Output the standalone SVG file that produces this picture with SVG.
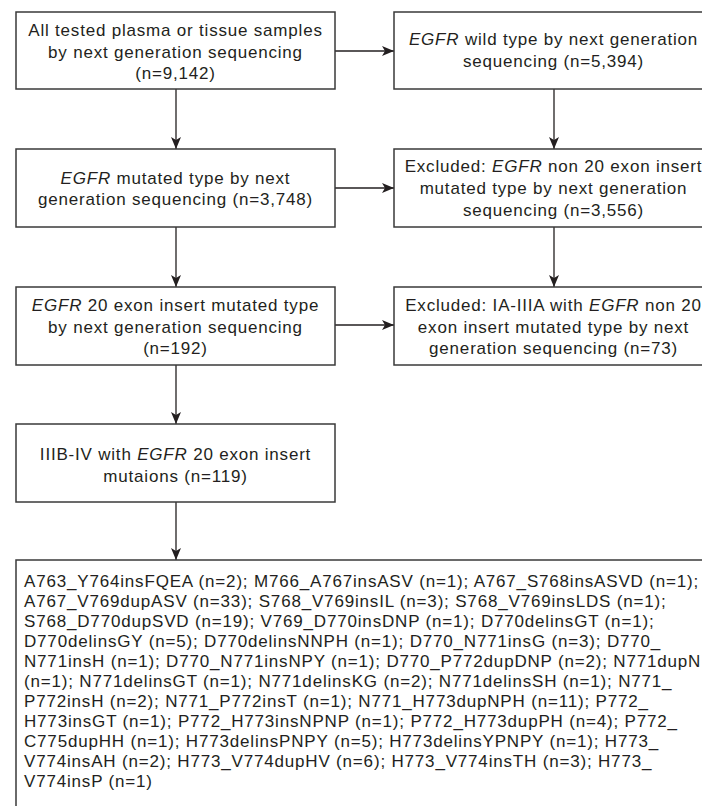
<svg xmlns="http://www.w3.org/2000/svg" width="702" height="806" viewBox="0 0 702 806">
<style>
.box{fill:#fff;stroke:#3a3a3a;stroke-width:1.5}
.t{font-family:"Liberation Sans",Arial,Helvetica,sans-serif;font-size:17px;fill:#231f20;letter-spacing:0.8px}
.b{letter-spacing:0.82px}
.c{text-anchor:middle}
.i{font-style:italic}
.con{stroke:#231f20;stroke-width:1.3;fill:none;marker-end:url(#ah)}
</style>
<defs>
<marker id="ah" markerUnits="userSpaceOnUse" markerWidth="12" markerHeight="10" viewBox="0 0 12 10" refX="12" refY="5" orient="auto">
<path d="M0,0 L12,5 L0,10 L3,5 z" fill="#231f20"/>
</marker>
</defs>
<rect width="702" height="806" fill="#fff"/>
<g id="connectors">
<line class="con" x1="335" y1="51" x2="394" y2="51"/>
<line class="con" x1="335" y1="188" x2="394" y2="188"/>
<line class="con" x1="335" y1="325" x2="394" y2="325"/>
<line class="con" x1="176" y1="89" x2="176" y2="149"/>
<line class="con" x1="176" y1="227" x2="176" y2="287"/>
<line class="con" x1="176" y1="365" x2="176" y2="424"/>
<line class="con" x1="176" y1="502" x2="176" y2="560"/>
<line class="con" x1="554" y1="89" x2="554" y2="149"/>
<line class="con" x1="554" y1="227" x2="554" y2="287"/>
</g>
<g id="n1">
<rect class="box" x="16" y="12" width="319" height="77"/>
<text class="t c" x="175.5" y="36">All tested plasma or tissue samples</text>
<text class="t c" x="175.5" y="57.5">by next generation sequencing</text>
<text class="t c" x="175.5" y="79">(n=9,142)</text>
</g>
<g id="n2">
<rect class="box" x="394" y="12" width="319" height="77"/>
<text class="t c" x="553.5" y="45"><tspan class="i">EGFR</tspan> wild type by next generation</text>
<text class="t c" x="553.5" y="66.5">sequencing (n=5,394)</text>
</g>
<g id="n3">
<rect class="box" x="16" y="149" width="319" height="78"/>
<text class="t c" x="175.5" y="183.5"><tspan class="i">EGFR</tspan> mutated type by next</text>
<text class="t c" x="175.5" y="205">generation sequencing (n=3,748)</text>
</g>
<g id="n4">
<rect class="box" x="394" y="149" width="319" height="78"/>
<text class="t c" x="553.5" y="172">Excluded: <tspan class="i">EGFR</tspan> non 20 exon insert</text>
<text class="t c" x="553.5" y="194">mutated type by next generation</text>
<text class="t c" x="553.5" y="216">sequencing (n=3,556)</text>
</g>
<g id="n5">
<rect class="box" x="16" y="287" width="319" height="78"/>
<text class="t c" x="175.5" y="311"><tspan class="i">EGFR</tspan> 20 exon insert mutated type</text>
<text class="t c" x="175.5" y="332.5">by next generation sequencing</text>
<text class="t c" x="175.5" y="354">(n=192)</text>
</g>
<g id="n6">
<rect class="box" x="394" y="287" width="319" height="78"/>
<text class="t c" x="553.5" y="311">Excluded: IA-IIIA with <tspan class="i">EGFR</tspan> non 20</text>
<text class="t c" x="553.5" y="332.5">exon insert mutated type by next</text>
<text class="t c" x="553.5" y="354">generation sequencing (n=73)</text>
</g>
<g id="n7">
<rect class="box" x="16" y="424" width="319" height="78"/>
<text class="t c" x="175.5" y="460">IIIB-IV with <tspan class="i">EGFR</tspan> 20 exon insert</text>
<text class="t c" x="175.5" y="481.5">mutaions (n=119)</text>
</g>
<g id="n8">
<rect class="box" x="16" y="560" width="700" height="260"/>
<text class="t b" x="24" y="587">A763_Y764insFQEA (n=2); M766_A767insASV (n=1); A767_S768insASVD (n=1);</text>
<text class="t b" x="24" y="607">A767_V769dupASV (n=33); S768_V769insIL (n=3); S768_V769insLDS (n=1);</text>
<text class="t b" x="24" y="627">S768_D770dupSVD (n=19); V769_D770insDNP (n=1); D770delinsGT (n=1);</text>
<text class="t b" x="24" y="647">D770delinsGY (n=5); D770delinsNNPH (n=1); D770_N771insG (n=3); D770_</text>
<text class="t b" x="24" y="667">N771insH (n=1); D770_N771insNPY (n=1); D770_P772dupDNP (n=2); N771dupN</text>
<text class="t b" x="24" y="687">(n=1); N771delinsGT (n=1); N771delinsKG (n=2); N771delinsSH (n=1); N771_</text>
<text class="t b" x="24" y="707">P772insH (n=2); N771_P772insT (n=1); N771_H773dupNPH (n=11); P772_</text>
<text class="t b" x="24" y="727">H773insGT (n=1); P772_H773insNPNP (n=1); P772_H773dupPH (n=4); P772_</text>
<text class="t b" x="24" y="747">C775dupHH (n=1); H773delinsPNPY (n=5); H773delinsYPNPY (n=1); H773_</text>
<text class="t b" x="24" y="767">V774insAH (n=2); H773_V774dupHV (n=6); H773_V774insTH (n=3); H773_</text>
<text class="t b" x="24" y="787">V774insP (n=1)</text>
</g>
</svg>
